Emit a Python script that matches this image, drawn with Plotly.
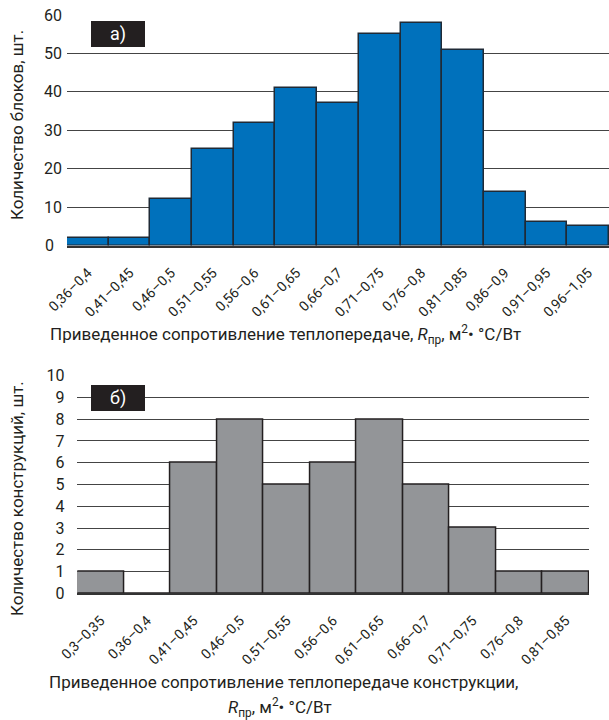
import plotly.graph_objects as go

# Histogram a): heat-transfer resistance of wall blocks
blocks_bins = ["0,36–0,4", "0,41–0,45", "0,46–0,5", "0,51–0,55", "0,56–0,6",
               "0,61–0,65", "0,66–0,7", "0,71–0,75", "0,76–0,8", "0,81–0,85",
               "0,86–0,9", "0,91–0,95", "0,96–1,05"]
blocks_count = [2, 2, 12, 25, 32, 41, 37, 55, 58, 51, 14, 6, 5]
blocks_ticks = [0, 10, 20, 30, 40, 50, 60]

# Histogram б): heat-transfer resistance of constructions
constr_bins = ["0,3–0,35", "0,36–0,4", "0,41–0,45", "0,46–0,5", "0,51–0,55",
               "0,56–0,6", "0,61–0,65", "0,66–0,7", "0,71–0,75", "0,76–0,8",
               "0,81–0,85"]
constr_count = [1, 0, 6, 8, 5, 6, 8, 5, 3, 1, 1]

W, H = 609, 720
FONT = "Roboto, Liberation Sans, Arial, sans-serif"
TXT = "#231f20"


def px_x(v):
    return v / W


def px_y(v):
    return 1 - v / H


fig = go.Figure()
fig.add_trace(go.Bar(x=blocks_bins, y=blocks_count, xaxis="x", yaxis="y",
                     marker=dict(color="#0071bc", line=dict(color="#1f2a36", width=1.5)),
                     hoverinfo="x+y", showlegend=False))
fig.add_trace(go.Bar(x=constr_bins, y=constr_count, xaxis="x2", yaxis="y2",
                     marker=dict(color="#939598", line=dict(color="#231f20", width=1.5)),
                     hoverinfo="x+y", showlegend=False))

grid = dict(showgrid=True, gridcolor="#444444", gridwidth=1.3, zeroline=False,
            ticks="", automargin=False, tickfont=dict(family=FONT, size=16, color=TXT))
xcommon = dict(showline=True, linecolor="#333333", linewidth=1.5, ticks="outside",
               ticklen=12, tickcolor="rgba(0,0,0,0)", tickangle=-45, automargin=False,
               tickfont=dict(family=FONT, size=14, color=TXT), showgrid=False)

# top-panel value labels are centred under one another
blocks_ticktext = [f"{v}\u2002 " if v < 10 else f"{v} " for v in blocks_ticks]

fig.update_layout(
    width=W, height=H,
    margin=dict(l=0, r=0, t=0, b=0),
    paper_bgcolor="white", plot_bgcolor="white",
    bargap=0,
    font=dict(family=FONT, color=TXT),
    xaxis=dict(domain=[px_x(67), px_x(609)], anchor="y", **xcommon),
    yaxis=dict(domain=[px_y(245.5), px_y(15)], anchor="x", range=[0, 60],
               tickvals=blocks_ticks, ticktext=blocks_ticktext, **grid),
    xaxis2=dict(domain=[px_x(77.3), px_x(589)], anchor="y2", **xcommon),
    yaxis2=dict(domain=[px_y(593.3), px_y(375.7)], anchor="x2", range=[0, 10],
                dtick=1, ticksuffix="   ", **grid),
)

title_font = dict(family=FONT, size=17, color=TXT)
ann = [
    # axis titles
    dict(text="Количество блоков, шт.", x=px_x(17), y=px_y(125), textangle=-90),
    dict(text="Приведенное сопротивление теплопередаче, <i>R</i><sub>пр</sub>, м<sup>2</sup>• °С/Вт",
         x=px_x(285), y=px_y(334)),
    dict(text="Количество конструкций, шт.", x=px_x(17), y=px_y(499), textangle=-90),
    dict(text="Приведенное сопротивление теплопередаче конструкции,",
         x=px_x(283), y=px_y(682)),
    dict(text="<i>R</i><sub>пр</sub>, м<sup>2</sup>• °С/Вт", x=px_x(280), y=px_y(707)),
]
for a in ann:
    fig.add_annotation(xref="paper", yref="paper", showarrow=False,
                       xanchor="center", yanchor="middle", font=title_font, **a)

# panel tags
for label, y0, y1 in [("а)", 21, 47), ("б)", 385, 411)]:
    fig.add_shape(type="rect", xref="paper", yref="paper",
                  x0=px_x(91), x1=px_x(145), y0=px_y(y1), y1=px_y(y0),
                  fillcolor="#231f20", line=dict(width=0))
    fig.add_annotation(text=label, xref="paper", yref="paper", showarrow=False,
                       x=px_x(118), y=px_y((y0 + y1) / 2), xanchor="center", yanchor="middle",
                       font=dict(family=FONT, size=18, color="white"))

fig.write_html("out.html")
